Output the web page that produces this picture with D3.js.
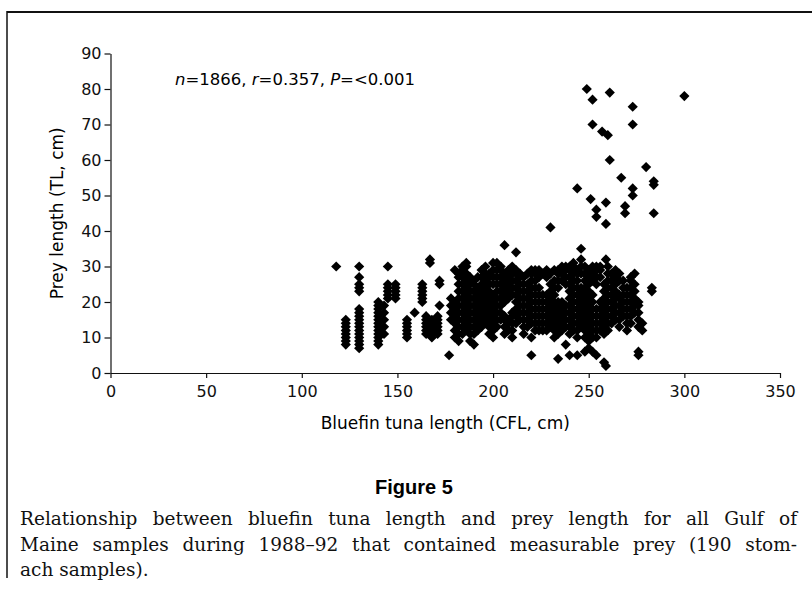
<!DOCTYPE html>
<html>
<head>
<meta charset="utf-8">
<script src="https://cdn.jsdelivr.net/npm/d3@7"></script>
<style>
  body { margin: 0; background: #fff; }
  svg { display: block; }
</style>
</head>
<body>
<svg id="chart" width="812" height="594"></svg>
<script>
/* global d3 */

// Bluefin tuna length (CFL, cm) for each group of stomach samples
const tunaLength = [
  118, 123, 130, 140, 143, 145, 149, 155, 159, 163, 165, 167, 168, 171, 172, 177,
  178, 180, 182, 184, 186, 188, 190, 192, 194, 196, 198, 200, 202, 204, 206, 208,
  210, 212, 214, 216, 218, 220, 222, 224, 226, 228, 230, 232, 234, 236, 238, 240,
  242, 244, 246, 248, 249, 250, 251, 252, 254, 256, 257, 258, 259, 260, 261, 262,
  264, 266, 267, 268, 269, 270, 272, 273, 274, 276, 278, 280, 283, 284, 300,
];

// Prey lengths (TL, cm) measured for each tuna length above
const preyLength = [
  [30],
  [8, 9, 10, 11, 12, 13, 14, 15],
  [7, 8, 9, 10, 11, 12, 13, 14, 15, 16, 17, 18, 23, 24, 25, 27, 30],
  [8, 9, 10, 11, 12, 13, 14, 15, 16, 17, 18, 19, 20],
  [11, 13, 15, 17, 19],
  [21, 22, 23, 24, 25, 30],
  [21, 22, 23, 24, 25],
  [10, 11, 12, 13, 14, 15],
  [17],
  [20, 21, 22, 23, 24, 25],
  [11, 12, 13, 14, 15, 16],
  [31, 32],
  [10, 11, 12, 13, 14, 15],
  [11, 12, 13, 14, 15, 16],
  [19, 25, 26],
  [5],
  [15, 17, 19, 21],
  [10, 12, 14, 16, 18, 20, 29],
  [9, 11, 13, 15, 17, 19, 21, 23, 25, 27, 28],
  [11, 13, 15, 17, 19, 21, 23, 25, 27, 29, 30],
  [12, 14, 16, 18, 20, 22, 24, 26, 28, 30, 31],
  [9, 11, 13, 15, 17, 19, 21, 23, 25, 27],
  [8, 11, 13, 15, 17, 19, 21, 23, 25, 26],
  [12, 14, 16, 18, 20, 22, 24, 27],
  [13, 15, 17, 19, 21, 23, 25, 27, 29],
  [14, 16, 18, 20, 22, 24, 26, 28, 30],
  [11, 13, 15, 17, 19, 21, 23, 25, 27, 28],
  [10, 12, 14, 16, 18, 20, 22, 25, 27, 29, 31],
  [13, 15, 17, 19, 21, 23, 25, 27, 29, 31],
  [15, 17, 19, 21, 23, 25, 27, 29, 30],
  [11, 13, 15, 16, 20, 22, 24, 26, 28, 36],
  [12, 14, 15, 21, 23, 25, 27, 29],
  [10, 12, 14, 16, 17, 22, 24, 26, 28, 30],
  [14, 16, 18, 20, 22, 24, 26, 28, 29, 34],
  [15, 17, 19, 21, 23, 25, 27, 28],
  [11, 13, 15, 17, 19, 21, 23, 25, 27],
  [13, 15, 17, 19, 21, 23, 25, 28],
  [5, 10, 14, 16, 18, 20, 22, 24, 26, 28, 29],
  [12, 14, 16, 18, 20, 22, 24, 26, 28, 29],
  [12, 14, 16, 18, 20, 22, 24, 27, 29],
  [12, 14, 16, 18, 20, 22, 28],
  [12, 14, 16, 18, 20, 22, 27, 29],
  [13, 15, 17, 19, 21, 23, 25, 28, 41],
  [10, 12, 14, 16, 18, 20, 22, 24, 26, 29],
  [4, 11, 13, 15, 17, 19, 20, 24, 26, 28, 29],
  [12, 14, 16, 18, 20, 26, 28, 30],
  [8, 13, 15, 17, 19, 25, 27, 29, 30],
  [5, 11, 13, 15, 17, 19, 21, 23, 25, 27, 29, 30],
  [12, 14, 16, 18, 20, 22, 24, 26, 28, 30, 31],
  [5, 10, 12, 14, 16, 18, 20, 22, 24, 26, 28, 29, 52],
  [13, 15, 17, 19, 21, 23, 24, 28, 30, 32, 35],
  [6, 10, 12, 14, 16, 18, 20, 22, 24, 26, 28, 30],
  [80],
  [7, 9, 11, 13, 15, 17, 19, 21, 23, 25, 27, 29],
  [49],
  [6, 10, 12, 14, 16, 18, 20, 22, 26, 28, 30, 70, 77],
  [5, 10, 12, 14, 16, 18, 25, 27, 29, 30, 44, 46],
  [12, 14, 16, 18, 20, 27, 29, 30],
  [68],
  [3, 11, 13, 15, 17, 19, 21, 23, 25],
  [2, 32, 42, 48],
  [12, 14, 16, 18, 20, 22, 24, 26, 28, 30, 67],
  [60, 79],
  [14, 16, 18, 20, 22, 24, 26, 28],
  [15, 17, 19, 21, 23, 25, 27, 29],
  [13, 15, 17, 19, 21, 22, 26, 28],
  [55],
  [16, 18, 20, 22, 24, 26],
  [45, 47],
  [12, 14, 16, 18, 20, 22, 24],
  [14, 16, 18, 20, 22, 24, 26, 27],
  [50, 52, 70, 75],
  [17, 19, 21, 23, 25, 28],
  [5, 6, 13, 15, 17, 19, 20],
  [12, 14],
  [58],
  [23, 24],
  [45, 53, 54],
  [78],
];

const xTicks = [0, 50, 100, 150, 200, 250, 300, 350];
const yTicks = [0, 10, 20, 30, 40, 50, 60, 70, 80, 90];

const captionLines = [
  "Relationship between bluefin tuna length and prey length for all Gulf of",
  "Maine samples during 1988–92 that contained measurable prey (190 stom-",
  "ach samples).",
];

const svg = d3.select("#chart");

// frame around the figure
svg.append("line")
  .attr("x1", 7).attr("x2", 812).attr("y1", 12).attr("y2", 12)
  .attr("stroke", "#111").attr("stroke-width", 2);
svg.append("line")
  .attr("x1", 7).attr("x2", 7).attr("y1", 11).attr("y2", 578)
  .attr("stroke", "#111").attr("stroke-width", 1.5);

// scales
const x = d3.scaleLinear().domain([0, 350]).range([110.5, 780]);
const y = d3.scaleLinear().domain([0, 90]).range([373, 53.5]);

const font = "'DejaVu Sans', 'Liberation Sans', Arial, sans-serif";

const xAxis = svg.append("g")
  .attr("transform", `translate(0,${y(0)})`)
  .call(d3.axisBottom(x).tickValues(xTicks).tickSize(5).tickSizeOuter(0).tickPadding(8));

const yAxis = svg.append("g")
  .attr("transform", `translate(${x(0)},0)`)
  .call(d3.axisLeft(y).tickValues(yTicks).tickSize(6).tickSizeOuter(0).tickPadding(3));

[xAxis, yAxis].forEach((g) => {
  g.selectAll("text").attr("font-family", font).attr("font-size", 16).attr("fill", "#111");
  g.selectAll("line, path").attr("stroke", "#111").attr("stroke-width", 1.2);
});

// points
const points = tunaLength.flatMap((t, i) => preyLength[i].map((p) => ({ t, p })));

svg.append("g")
  .selectAll("path")
  .data(points)
  .enter()
  .append("path")
  .attr("d", d3.symbol().type(d3.symbolSquare).size(52))
  .attr("transform", (d) => `translate(${x(d.t)},${y(d.p)}) rotate(45)`)
  .attr("fill", "#000");

// axis titles
svg.append("text")
  .attr("x", (x(0) + x(350)) / 2)
  .attr("y", 429)
  .attr("text-anchor", "middle")
  .attr("font-family", font)
  .attr("font-size", 17)
  .text("Bluefin tuna length (CFL, cm)");

svg.append("text")
  .attr("transform", `translate(63,${(y(0) + y(90)) / 2}) rotate(-90)`)
  .attr("text-anchor", "middle")
  .attr("font-family", font)
  .attr("font-size", 17)
  .text("Prey length (TL, cm)");

// statistics note
const stats = svg.append("text")
  .attr("x", 175)
  .attr("y", 85)
  .attr("font-family", font)
  .attr("font-size", 16.5);
stats.append("tspan").attr("font-style", "italic").text("n");
stats.append("tspan").text("=1866, ");
stats.append("tspan").attr("font-style", "italic").text("r");
stats.append("tspan").text("=0.357, ");
stats.append("tspan").attr("font-style", "italic").text("P");
stats.append("tspan").text("=<0.001");

// figure caption
svg.append("text")
  .attr("x", 414)
  .attr("y", 494)
  .attr("text-anchor", "middle")
  .attr("font-family", "'Liberation Sans', Arial, sans-serif")
  .attr("font-weight", "bold")
  .attr("font-size", 20)
  .text("Figure 5");

const captionLeft = 20;
const captionRight = 797;
captionLines.forEach((line, i) => {
  const t = svg.append("text")
    .attr("x", captionLeft)
    .attr("y", 525 + i * 25.5)
    .attr("font-family", "'DejaVu Serif', 'Liberation Serif', serif")
    .attr("font-size", 18.5)
    .attr("fill", "#111")
    .text(line);
  // justify the full lines like the printed page
  if (i < captionLines.length - 1) {
    const spaces = line.split(" ").length - 1;
    const extra = (captionRight - captionLeft - t.node().getComputedTextLength()) / spaces;
    t.attr("word-spacing", extra);
  }
});
</script>
</body>
</html>
